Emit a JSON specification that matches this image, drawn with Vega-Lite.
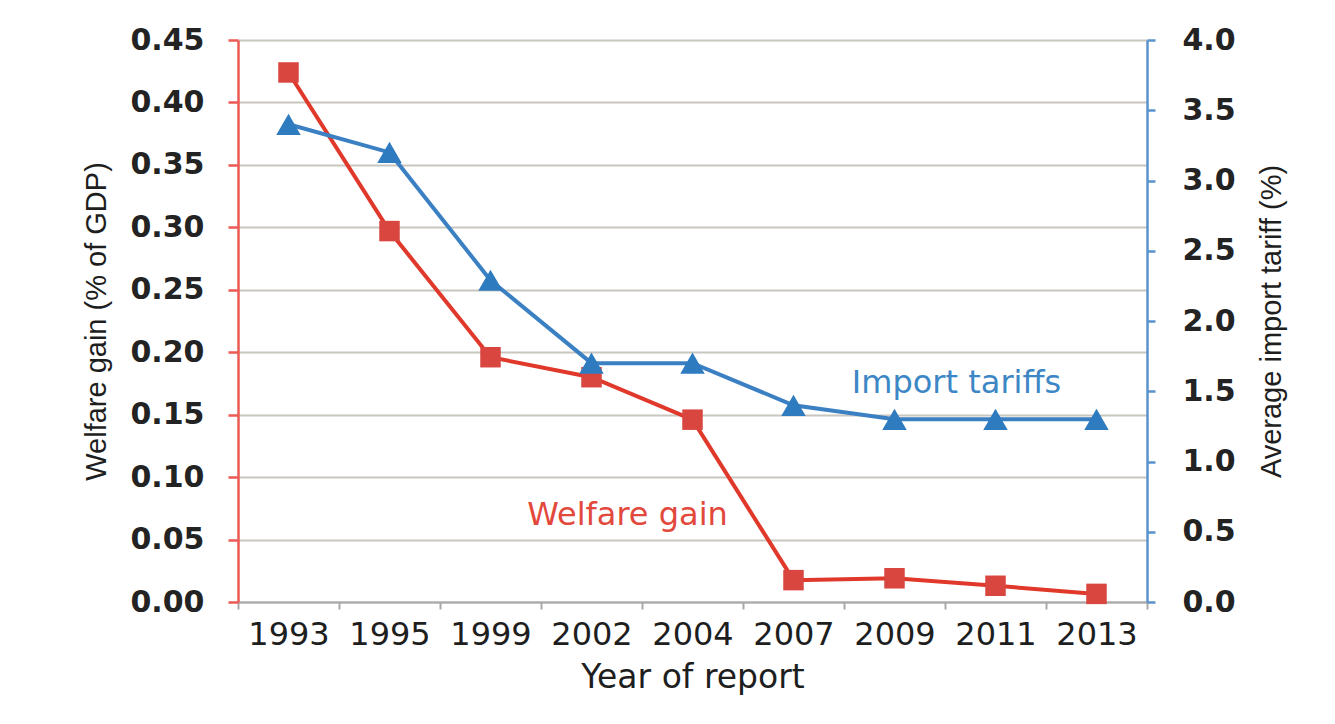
{
  "$schema": "https://vega.github.io/schema/vega-lite/v6.json",
  "width": 909,
  "height": 562,
  "autosize": {"type": "none"},
  "padding": {"left": 238, "top": 40, "right": 188, "bottom": 122},
  "background": "white",
  "config": {"view": {"stroke": null}, "font": "DejaVu Sans"},
  "datasets": {
    "series": [
      {"year": "1993", "welfare": 0.424, "tariff": 3.4},
      {"year": "1995", "welfare": 0.297, "tariff": 3.2},
      {"year": "1999", "welfare": 0.196, "tariff": 2.29},
      {"year": "2002", "welfare": 0.18, "tariff": 1.7},
      {"year": "2004", "welfare": 0.146, "tariff": 1.7},
      {"year": "2007", "welfare": 0.0175, "tariff": 1.4},
      {"year": "2009", "welfare": 0.019, "tariff": 1.3},
      {"year": "2011", "welfare": 0.013, "tariff": 1.3},
      {"year": "2013", "welfare": 0.0065, "tariff": 1.3}
    ],
    "welfareLabel": [{"year": "2002", "welfare": 0.07, "label": "Welfare gain"}],
    "tariffLabel": [{"year": "2009", "tariff": 1.56, "label": "Import tariffs"}]
  },
  "encoding": {
    "x": {
      "field": "year",
      "type": "ordinal",
      "sort": null,
      "scale": {
        "type": "band",
        "domain": ["1993", "1995", "1999", "2002", "2004", "2007", "2009", "2011", "2013"],
        "paddingInner": 0,
        "paddingOuter": 0
      },
      "axis": {
        "title": "Year of report",
        "orient": "bottom",
        "tickBand": "extent",
        "grid": false,
        "labelAngle": 0,
        "domainColor": "#a8a8a8",
        "domainWidth": 2,
        "tickColor": "#a8a8a8",
        "tickWidth": 2,
        "tickSize": 7,
        "labelFont": "DejaVu Sans",
        "labelFontSize": 32,
        "labelColor": "#1e1e1e",
        "labelPadding": 10,
        "titleFont": "DejaVu Sans",
        "titleFontSize": 33,
        "titleFontWeight": "normal",
        "titleColor": "#1e1e1e",
        "titlePadding": 11
      }
    }
  },
  "layer": [
    {
      "data": {"name": "series"},
      "encoding": {
        "y": {
          "field": "welfare",
          "type": "quantitative",
          "scale": {"domain": [0, 0.45], "nice": false, "zero": true},
          "axis": {
            "orient": "left",
            "title": "Welfare gain (% of GDP)",
            "values": [0, 0.05, 0.1, 0.15, 0.2, 0.25, 0.3, 0.35, 0.4, 0.45],
            "format": ".2f",
            "grid": true,
            "gridColor": "#c9c6bf",
            "gridWidth": 2,
            "domainColor": "#ec5a54",
            "domainWidth": 2.5,
            "tickColor": "#ec5a54",
            "tickWidth": 2.5,
            "tickSize": 10,
            "labelFont": "DejaVu Sans",
            "labelFontSize": 30,
            "labelFontWeight": "bold",
            "labelColor": "#232323",
            "labelPadding": 24,
            "labelOverlap": false,
            "titleFont": "Liberation Sans",
            "titleFontSize": 29,
            "titleFontWeight": "normal",
            "titleColor": "#1e1e1e",
            "titlePadding": 18
          }
        }
      },
      "layer": [
        {"mark": {"type": "line", "color": "#e0392b", "strokeWidth": 4}},
        {"mark": {"type": "point", "shape": "square", "filled": true, "size": 420, "color": "#d9463f", "opacity": 1}},
        {
          "data": {"name": "welfareLabel"},
          "mark": {"type": "text", "color": "#e2483c", "font": "DejaVu Sans", "fontSize": 32, "align": "center", "baseline": "middle", "dx": 36},
          "encoding": {"text": {"field": "label"}}
        }
      ]
    },
    {
      "data": {"name": "series"},
      "encoding": {
        "y": {
          "field": "tariff",
          "type": "quantitative",
          "scale": {"domain": [0, 4], "nice": false, "zero": true},
          "axis": {
            "orient": "right",
            "title": "Average import tariff (%)",
            "values": [0, 0.5, 1, 1.5, 2, 2.5, 3, 3.5, 4],
            "format": ".1f",
            "grid": false,
            "domainColor": "#5a93cc",
            "domainWidth": 2.5,
            "tickColor": "#5a93cc",
            "tickWidth": 2.5,
            "tickSize": 8,
            "labelFont": "DejaVu Sans",
            "labelFontSize": 30,
            "labelFontWeight": "bold",
            "labelColor": "#232323",
            "labelPadding": 27,
            "labelOverlap": false,
            "titleFont": "Liberation Sans",
            "titleFontSize": 29,
            "titleFontWeight": "normal",
            "titleColor": "#1e1e1e",
            "titleAngle": -90,
            "titleBaseline": "top",
            "titlePadding": 22
          }
        }
      },
      "layer": [
        {"mark": {"type": "line", "color": "#3b80c2", "strokeWidth": 4}},
        {"mark": {"type": "point", "shape": "triangle-up", "filled": true, "size": 600, "color": "#2f7bbf", "opacity": 1}},
        {
          "data": {"name": "tariffLabel"},
          "mark": {"type": "text", "color": "#3d87c6", "font": "DejaVu Sans", "fontSize": 32, "align": "center", "baseline": "middle", "dx": 62},
          "encoding": {"text": {"field": "label"}}
        }
      ]
    }
  ],
  "resolve": {"scale": {"y": "independent"}}
}
